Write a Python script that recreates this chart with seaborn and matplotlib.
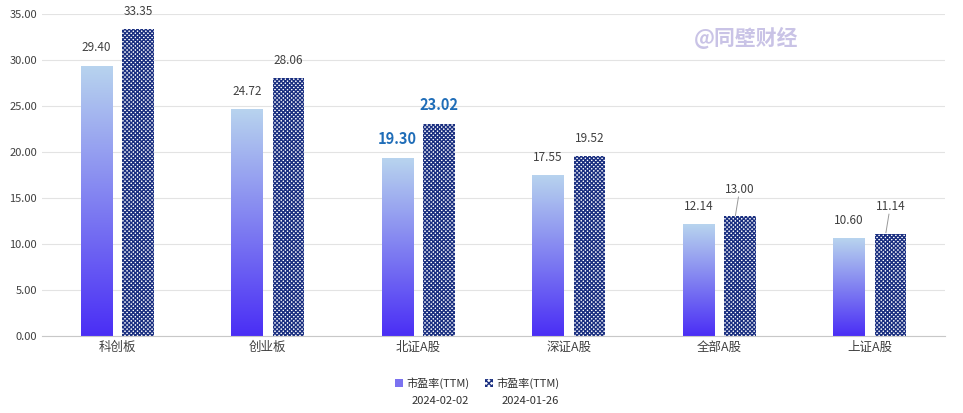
import numpy as np
import pandas as pd
import matplotlib
matplotlib.use("Agg")
import matplotlib.pyplot as plt
import seaborn as sns
from matplotlib.colors import LinearSegmentedColormap
from matplotlib.patches import Rectangle

categories = ["科创板", "创业板", "北证A股", "深证A股", "全部A股", "上证A股"]
pe_0202 = [29.40, 24.72, 19.30, 17.55, 12.14, 10.60]
pe_0126 = [33.35, 28.06, 23.02, 19.52, 13.00, 11.14]
series_names = ["市盈率(TTM)\n2024-02-02", "市盈率(TTM)\n2024-01-26"]

plt.rcParams["font.family"] = ["Noto Sans CJK SC", "DejaVu Sans"]
plt.rcParams["hatch.color"] = "#1a2f80"
plt.rcParams["hatch.linewidth"] = 1.0
df = pd.DataFrame({
    "cat": categories * 2,
    "val": pe_0202 + pe_0126,
    "series": [series_names[0]] * 6 + [series_names[1]] * 6,
})

fig = plt.figure(figsize=(9.63, 4.13), dpi=100)
ax = fig.add_axes([42/963, 1-336/413, (945-42)/963, (336-14)/413])
sns.barplot(data=df, x="cat", y="val", hue="series", ax=ax, width=0.55,
            gap=0.24, legend=False, palette=["white", "white"])

cmap = LinearSegmentedColormap.from_list("g", ["#4a2ef5", "#b8d4ee"])
grad = np.linspace(0, 1, 256).reshape(-1, 1)
n = len(categories)
for i, p in enumerate(ax.patches[:2*n]):
    x0, w, h = p.get_x(), p.get_width(), p.get_height()
    if i < n:
        p.set_facecolor("none"); p.set_edgecolor("none")
        im = ax.imshow(grad, cmap=cmap, origin="lower", aspect="auto",
                       extent=[x0, x0+w, 0, h], zorder=2)
        im.set_clip_path(p)
        lab = f"{pe_0202[i]:.2f}"
    else:
        p.set_facecolor("white"); p.set_edgecolor("#1a2f80")
        p.set_hatch("xxxxxxxx"); p.set_linewidth(0)
        lab = f"{pe_0126[i-n]:.2f}"
    if categories[i % n] == "北证A股":
        ax.text(x0+w/2, h+1.2, lab, ha="center", va="bottom", fontsize=10.5,
                fontweight="bold", color="#1f6db8")
    else:
        lead = i >= n and categories[i-n] in ("全部A股", "上证A股")
        dy = 2.2 if lead else 1.2
        ax.text(x0+w/2, h+dy, lab, ha="center", va="bottom", fontsize=8.5, color="#404040")
        if lead:
            ax.plot([x0+w/2 - 0.03, x0+w/2 - 0.01], [h+0.1, h+dy-0.1], color="#999999", lw=0.7)

ax.set_xlim(-0.5, n-0.5)
ax.set_ylim(0, 35)
ax.set_yticks(np.arange(0, 35.01, 5))
ax.set_yticklabels([f"{v:.2f}" for v in np.arange(0, 35.01, 5)], fontsize=8, color="#404040")
ax.tick_params(axis="x", labelsize=9, colors="#404040", length=0)
ax.tick_params(axis="y", length=0)
ax.set_xlabel(""); ax.set_ylabel("")
ax.grid(axis="y", color="#e3e3e3", lw=0.8)
ax.set_axisbelow(True)
for s in ["top", "right", "left"]:
    ax.spines[s].set_visible(False)
ax.spines["bottom"].set_color("#c8c8c8")

ax.text(0.78, 0.925, "@同壁财经", transform=ax.transAxes, fontsize=15,
        fontweight="bold", color="#c9c3e6", ha="center", va="center")

# legend
fig.add_artist(Rectangle((395/963, 1-387/413), 8/963, 8/413, transform=fig.transFigure,
                         facecolor="#7b72f0", edgecolor="none"))
fig.text(406/963, 1-383/413, "市盈率(TTM)", fontsize=8, va="center", color="#303030")
fig.add_artist(Rectangle((485/963, 1-387/413), 8/963, 8/413, transform=fig.transFigure,
                         facecolor="white", edgecolor="#1a2f80", hatch="xxxxxx", lw=0))
fig.text(496/963, 1-383/413, "市盈率(TTM)", fontsize=8, va="center", color="#303030")
fig.text(440/963, 1-401/413, "2024-02-02", fontsize=8, va="center", ha="center", color="#303030")
fig.text(530/963, 1-401/413, "2024-01-26", fontsize=8, va="center", ha="center", color="#303030")

fig.savefig("out.png", dpi=100)
